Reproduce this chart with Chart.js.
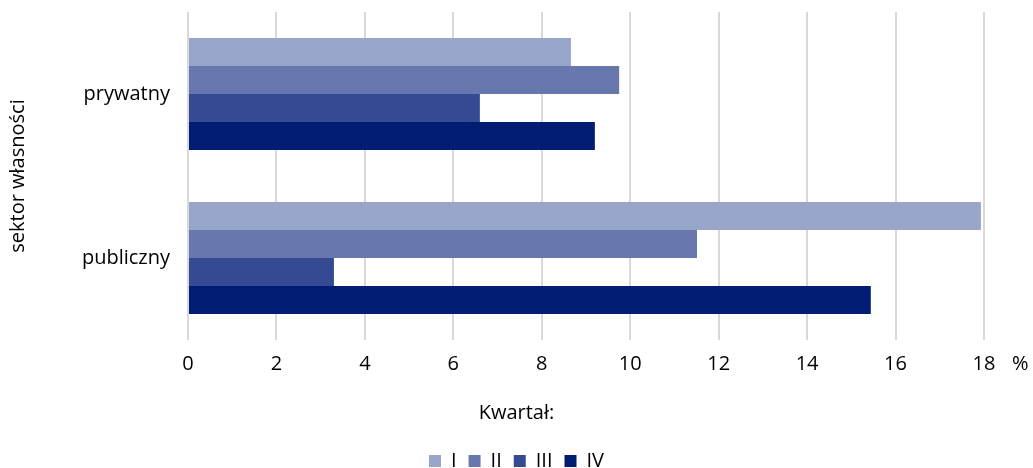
<!DOCTYPE html>
<html><head><meta charset="utf-8">
<script src="https://cdn.jsdelivr.net/npm/chart.js@4"></script>
<style>html,body{margin:0;padding:0;background:#fff;}#wrap{width:1033px;height:468px;}</style>
</head><body><div id="wrap"><canvas id="c" width="1033" height="468"></canvas></div>
<script>
const categories = ['prywatny', 'publiczny'];
const seriesNames = ['I', 'II', 'III', 'IV'];
const valuesI = [8.66, 17.93];
const valuesII = [9.75, 11.51];
const valuesIII = [6.60, 3.30];
const valuesIV = [9.20, 15.44];
const colors = ['#98a6c9', '#6878ae', '#344b94', '#001c73'];
const FONT = '"Open Sans", sans-serif';
const FS = 20;

const unitPlugin = {
  id: 'unit',
  afterLayout(chart) {
    if (chart.legend) { chart.legend.top += 13; chart.legend.bottom += 13; }
  },
  afterDraw(chart) {
    const ctx = chart.ctx, x = chart.scales.x;
    ctx.save();
    ctx.font = FS + 'px ' + FONT;
    ctx.fillStyle = '#000';
    ctx.textAlign = 'left';
    ctx.textBaseline = 'middle';
    ctx.fillText('%', x.right + 28, 364);
    ctx.restore();
  }
};

new Chart(document.getElementById('c'), {
  type: 'bar',
  data: {
    labels: categories,
    datasets: [valuesI, valuesII, valuesIII, valuesIV].map((d, i) => ({
      label: seriesNames[i], data: d, backgroundColor: colors[i],
      borderWidth: 0, categoryPercentage: 0.683, barPercentage: 1
    }))
  },
  options: {
    indexAxis: 'y', responsive: false, animation: false,
    layout: { padding: { top: 12, right: 0, left: 0, bottom: 0 } },
    scales: {
      x: {
        min: 0, max: 18,
        afterFit: s => { s.height = 50; s.paddingLeft = 0; s.paddingRight = 49; },
        ticks: { stepSize: 2, color: '#000', font: { family: FONT, size: FS }, padding: 12 },
        grid: { color: '#d9d9d9', lineWidth: 2, drawTicks: false },
        border: { display: false }
      },
      y: {
        afterFit: s => { s.width = 188; s.paddingTop = 0; s.paddingBottom = 0; },
        ticks: { color: '#000', font: { family: FONT, size: FS }, padding: 18 },
        grid: { display: false, drawTicks: false },
        border: { display: false },
        title: { display: true, text: 'sektor własności', color: '#000', font: { family: FONT, size: FS }, padding: { top: 6, bottom: 0 } }
      }
    },
    plugins: {
      legend: {
        position: 'bottom',
        title: { display: true, text: 'Kwartał:', color: '#000', font: { family: FONT, size: FS }, padding: { top: 0, bottom: 12 } },
        labels: { boxWidth: 12, boxHeight: 12, color: '#000', font: { family: FONT, size: FS }, padding: 12 }
      },
      tooltip: { enabled: false }
    }
  },
  plugins: [unitPlugin]
});
</script></body></html>
